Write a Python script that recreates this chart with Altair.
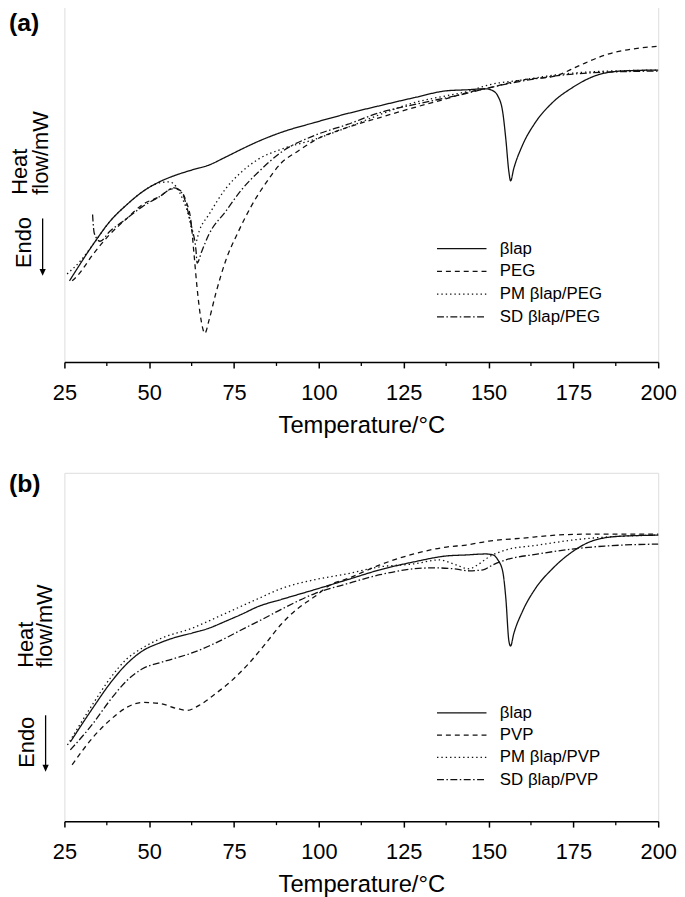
import altair as alt
import pandas as pd

FONT = "Liberation Sans"

# ---------------- Panel (a) : PEG ----------------
names_a = ["βlap", "PEG", "PM βlap/PEG", "SD βlap/PEG"]

T_lap_a = [26.5, 33.5, 38.4, 43.4, 48, 53, 58, 62.6, 67.6, 72.5, 78.4, 82.2, 88.9, 98.8, 108.4,
           118, 128, 137.6, 143.4, 149.2, 151.3, 152.7, 154.2, 155.1, 156, 156.5, 157.4, 160,
           163.8, 168.8, 174.6, 181.3, 189.2, 200]
Y_lap_a = [82, 119, 142, 159, 172, 182, 189, 194, 199, 207, 217, 223, 232, 242, 251,
           259, 267, 274, 275, 276, 274, 269, 252, 225, 192, 183, 195, 219,
           242, 262, 277, 289, 294, 295]

T_peg_a = [27.3, 28.8, 33.5, 38.4, 43.4, 48, 53, 56.8, 58.8, 60.9, 62.3, 63.2, 64.1, 65.3, 66.4,
           67.6, 69.6, 72.5, 76.3, 80, 84.2, 88.9, 93.8, 98.8, 108.4, 118, 128, 137.6, 143.4,
           150.1, 160, 169.7, 176.4, 184.25, 200]
Y_peg_a = [82, 87, 109, 129, 145, 159, 167, 175, 174, 162, 142, 109, 75, 42, 29,
           42, 69, 102, 132, 157, 180, 201, 213, 224, 237, 247, 257, 266, 272,
           277, 285, 289, 299, 310, 319]

T_pm_a = [25.8, 29.7, 33.5, 38.4, 43.4, 48, 53, 55.9, 59.8, 61.8, 62.6, 63.8, 64.7, 67.6, 72.5,
          77.2, 82.2, 88.9, 98.8, 108.4, 118, 128, 137.6, 143.4, 150.1, 160, 169.7, 179.3, 200]
Y_pm_a = [89, 102, 119, 142, 159, 172, 181, 182, 165, 145, 132, 122, 132, 149, 175,
          192, 205, 215, 225, 237, 250, 262, 269, 273, 280, 285, 290, 293, 295]

T_sd_a = [33.3, 33.8, 35.5, 38.4, 43.4, 48, 53, 57.4, 59.8, 61.2, 62.6, 63.8, 64.1, 65.5, 67.6,
          72.5, 77.2, 82.2, 88.9, 98.8, 108.4, 118, 128, 137.6, 140.5, 150.1, 160, 169.7, 179.3, 200]
Y_sd_a = [149, 130, 122, 132, 145, 157, 167, 176, 170, 155, 135, 112, 100, 112, 129,
          152, 174, 192, 212, 229, 240, 252, 260, 267, 269, 277, 284, 289, 292, 294]

# ---------------- Panel (b) : PVP ----------------
names_b = ["βlap", "PVP", "PM βlap/PVP", "SD βlap/PVP"]

T_lap_b = [26.75, 33.5, 38.4, 43.4, 48, 53, 58, 62.6, 67.6, 72.5, 77.2, 82.2, 88.9, 98.8, 108.4,
           118, 128, 137.6, 143.4, 149.25, 151.3, 152.75, 154.2, 155.1, 156, 156.5, 157.4, 160,
           163.8, 168.8, 174.6, 181.3, 189.2, 200]
Y_lap_b = [80, 115, 139, 159, 172, 180, 186, 190, 195, 202, 209, 217, 224, 234, 244,
           254, 262, 268, 269, 270, 269, 264, 252, 225, 182, 177, 189, 212,
           235, 255, 272, 284, 288, 289]

T_pvp_b = [27.3, 33.5, 38.4, 43.4, 48, 53, 58, 61.2, 64.7, 69.6, 74.3, 79.25, 84.2, 88.9, 93.8,
           98.8, 103.5, 108.4, 118, 128, 137.6, 143.4, 150.1, 160, 169.7, 179.3, 200]
Y_pvp_b = [57, 85, 102, 115, 120, 119, 114, 112, 117, 129, 142, 159, 179, 199, 215,
           227, 239, 245, 259, 270, 277, 279, 283, 286, 289, 290, 290]

T_pm_b = [25.9, 33.5, 38.4, 43.4, 48, 53, 62.6, 72.5, 82.2, 88.9, 98.8, 108.4, 118, 128,
          135.5, 139.6, 144.3, 147.2, 150.1, 155.1, 164.7, 174.6, 184.25, 200]
Y_pm_b = [77, 119, 144, 164, 175, 184, 195, 210, 225, 235, 244, 250, 257, 260,
          264, 260, 255, 260, 267, 274, 279, 284, 287, 289]

T_sd_b = [26.75, 33.5, 38.4, 43.4, 48, 53, 58, 62.6, 67.6, 72.5, 79.25, 82.2, 88.9, 98.8, 108.4,
          118, 128, 133.8, 139.6, 144.3, 148.4, 151.3, 155.1, 164.7, 174.6, 184.25, 200]
Y_sd_b = [72, 99, 122, 142, 154, 160, 165, 170, 177, 185, 197, 202, 214, 230, 240,
          249, 255, 256, 255, 253, 254, 259, 264, 270, 275, 278, 280]

major_ticks = [25, 50, 75, 100, 125, 150, 175, 200]
minor_ticks = [37.5, 62.5, 87.5, 112.5, 137.5, 162.5, 187.5]

DASHES = [[1, 0], [5, 4], [1.4, 3], [7, 2.5, 1.5, 2.5]]
W = 600


def one(text):
    return pd.DataFrame({"t": [text]})


def panel(tag, names, series, ymax, height, leg_y, row_pad, txt):
    rows = []
    for n, (T, Y) in zip(names, series):
        for t, y in zip(T, Y):
            rows.append({"series": n, "T": t, "hf": y})
    df = pd.DataFrame(rows)

    xs = alt.Scale(domain=[25, 200], nice=False, zero=False)
    lines = alt.Chart(df).mark_line(interpolate="monotone", strokeWidth=1.3, color="#111").encode(
        x=alt.X("T:Q", scale=xs,
                axis=alt.Axis(values=major_ticks, title="Temperature/°C", grid=False,
                              labelFontSize=22, titleFontSize=24, labelFont=FONT, titleFont=FONT,
                              labelColor="black", titleColor="black", titleFontWeight="normal",
                              domainColor="black", domainWidth=1.5, tickColor="black",
                              tickWidth=1.5, tickSize=6, labelPadding=15, titlePadding=10,
                              labelFlush=False)),
        y=alt.Y("hf:Q", scale=alt.Scale(domain=[0, ymax], nice=False, zero=False), axis=None),
        strokeDash=alt.StrokeDash(
            "series:N", sort=names,
            scale=alt.Scale(domain=names, range=DASHES),
            legend=alt.Legend(title=None, orient="none", legendX=393, legendY=leg_y,
                              symbolType="M-5,0L5,0", symbolSize=100, symbolStrokeWidth=1.2,
                              symbolStrokeColor="#111", symbolFillColor="transparent",
                              labelFontSize=17, labelFont=FONT, labelColor="black",
                              labelOffset=30, rowPadding=row_pad, padding=0)),
    )

    minor = alt.Chart(pd.DataFrame({"T": minor_ticks})).mark_rule(
        color="black", strokeWidth=1.3).encode(
        x=alt.X("T:Q", scale=xs), y=alt.value(height), y2=alt.value(height + 4))

    layers = [lines, minor]

    lab = alt.Chart(one(tag)).mark_text(font=FONT, fontSize=25, fontWeight="bold",
                                        align="left", baseline="middle", color="black").encode(
        text="t:N", x=alt.value(txt["tag_x"]), y=alt.value(txt["tag_y"]))
    layers.append(lab)

    for word, key in [("Heat", "heat_x"), ("flow/mW", "flow_x")]:
        layers.append(alt.Chart(one(word)).mark_text(
            font=FONT, fontSize=22, angle=270, align="left", baseline="middle",
            color="black").encode(text="t:N", x=alt.value(txt[key]), y=alt.value(txt["title_y"])))

    layers.append(alt.Chart(one("Endo")).mark_text(
        font=FONT, fontSize=22, angle=270, align="left", baseline="middle",
        color="black").encode(text="t:N", x=alt.value(txt["endo_x"]), y=alt.value(txt["endo_y"])))

    layers.append(alt.Chart(one("arrow")).mark_rule(color="black", strokeWidth=1.3).encode(
        x=alt.value(txt["arr_x"]), y=alt.value(txt["arr_y1"]), y2=alt.value(txt["arr_y2"] - 4)))
    layers.append(alt.Chart(one("head")).mark_point(
        shape="M-1,-2.2L1,-2.2L0,0Z", filled=True, size=40, color="black", opacity=1).encode(
        x=alt.value(txt["arr_x"]), y=alt.value(txt["arr_y2"])))

    return alt.layer(*layers).properties(width=W, height=height)


pa = panel("(a)", names_a,
           [(T_lap_a, Y_lap_a), (T_peg_a, Y_peg_a), (T_pm_a, Y_pm_a), (T_sd_a, Y_sd_a)],
           359, 359, 236, 5,
           dict(tag_x=-56, tag_y=17, heat_x=-45, flow_x=-24, title_y=190,
                endo_x=-41, endo_y=264, arr_x=-22, arr_y1=214, arr_y2=272))
pb = panel("(b)", names_b,
           [(T_lap_b, Y_lap_b), (T_pvp_b, Y_pvp_b), (T_pm_b, Y_pm_b), (T_sd_b, Y_sd_b)],
           352, 352, 234, 4.5,
           dict(tag_x=-56, tag_y=11, heat_x=-39, flow_x=-20, title_y=197,
                endo_x=-38, endo_y=298, arr_x=-19, arr_y1=245, arr_y2=302))

chart = alt.vconcat(pa, pb, spacing=33).resolve_scale(strokeDash="independent").properties(
    padding={"left": 0, "top": -7, "right": 0, "bottom": 0}
).configure_view(stroke="black", strokeWidth=1.5).configure(font=FONT)

chart.save("out.html", embed_options={"renderer": "svg", "actions": False})
